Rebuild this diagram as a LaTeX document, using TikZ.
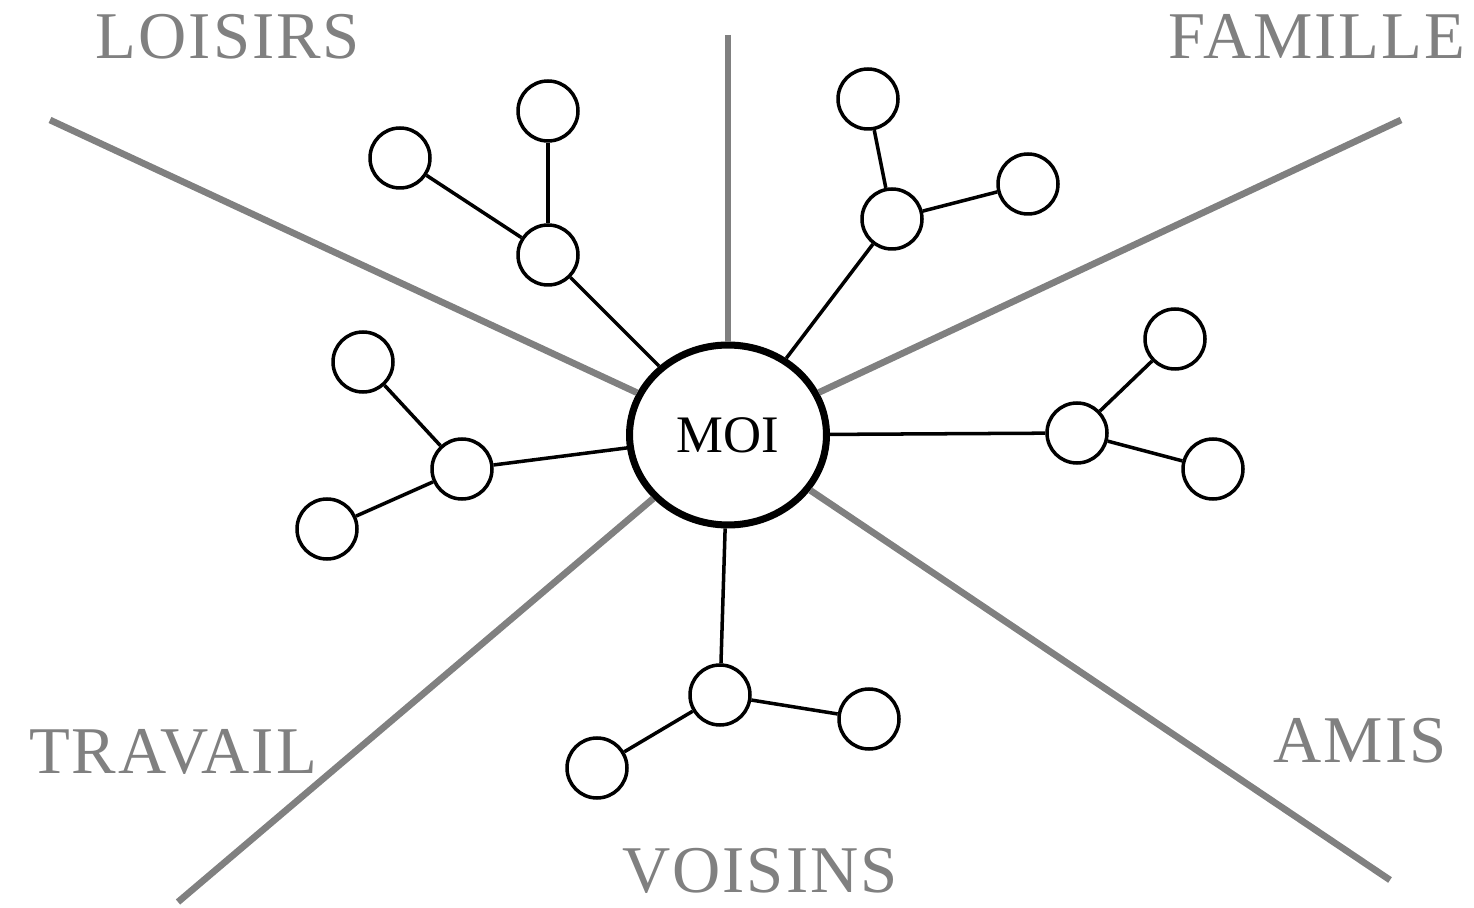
\documentclass[tikz,border=0pt]{standalone}
\usepackage{fontspec}
\setmainfont{Liberation Serif}
\usetikzlibrary{shapes.geometric}
\def\Loisirs{LOISIRS}
\def\Famille{FAMILLE}
\def\Travail{TRAVAIL}
\def\Amis{AMIS}
\def\Voisins{VOISINS}
\definecolor{trait}{gray}{0.5}
\newcommand{\lien}[2]{\draw[line width=2pt] (#1) -- (#2)}
\newcommand{\secteur}[2]{\draw[trait, line width=3.8pt] (#1) -- (#2)}

\begin{document}
\begin{tikzpicture}[x=0.02cm, y=-0.02cm,
                    moi/.style={
                        ellipse, draw, line width=4pt,
                        minimum width=3.94cm, minimum height=3.6cm,
                        inner sep=0pt,
                        font=\fontsize{30}{32}\selectfont
                    },
                    bulle/.style={
                        circle, draw, line width=2pt,
                        minimum size=1.2cm, inner sep=0pt
                    },
                    titre/.style={
                        text=trait, anchor=base, inner sep=0pt,
                        font=\fontsize{38}{40}\selectfont\addfontfeatures{LetterSpace=3}
                    }]
    \useasboundingbox (0,0) rectangle (1474,908);

    \node[moi] (moi) at (728,435) {MOI};

    % loisirs
    \node[bulle] (l0) at (548,255) {};
    \node[bulle] (l1) at (548,111) {};
    \node[bulle] (l2) at (400,158) {};
    % famille
    \node[bulle] (f0) at (892,219) {};
    \node[bulle] (f1) at (868,99) {};
    \node[bulle] (f2) at (1028,184) {};
    % amis
    \node[bulle] (a0) at (1077,433) {};
    \node[bulle] (a1) at (1175,339) {};
    \node[bulle] (a2) at (1213,469) {};
    % travail
    \node[bulle] (t0) at (462,469) {};
    \node[bulle] (t1) at (363,362) {};
    \node[bulle] (t2) at (327,529) {};
    % voisins
    \node[bulle] (v0) at (720,695) {};
    \node[bulle] (v1) at (869,719) {};
    \node[bulle] (v2) at (597,768) {};

    \node[titre] (loisirs) at (228,59) {\Loisirs};
    \node[titre] (famille) at (1317,59) {\Famille};
    \node[titre] (travail) at (173,773) {\Travail};
    \node[titre] (amis) at (1360,762) {\Amis};
    \node[titre] (voisins) at (760,892) {\Voisins};

    \coordinate (haut) at (728,35);
    \coordinate (nw) at (50,120);
    \coordinate (ne) at (1401,120);
    \coordinate (sw) at (178,902);
    \coordinate (se) at (1390,880);

    \secteur{haut}{moi};
    \secteur{nw}{moi};
    \secteur{ne}{moi};
    \secteur{sw}{moi};
    \secteur{se}{moi};

    \lien{moi}{l0};
    \lien{l0}{l1};
    \lien{l0}{l2};

    \lien{moi}{f0};
    \lien{f0}{f1};
    \lien{f0}{f2};

    \lien{moi}{a0};
    \lien{a0}{a1};
    \lien{a0}{a2};

    \lien{moi}{t0};
    \lien{t0}{t1};
    \lien{t0}{t2};

    \lien{moi}{v0};
    \lien{v0}{v1};
    \lien{v0}{v2};
\end{tikzpicture}
\end{document}
